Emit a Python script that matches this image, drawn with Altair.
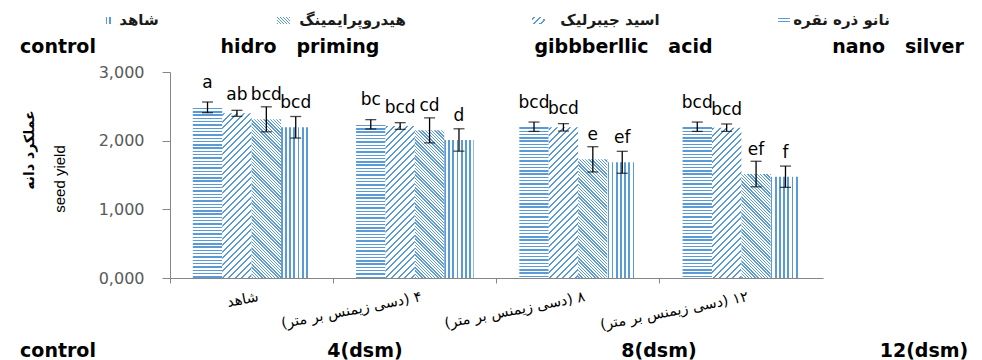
import altair as alt
import pandas as pd

# ---------------- data ----------------
groups = ["شاهد", "۴ (دسی زیمنس بر متر)", "۸ (دسی زیمنس بر متر)", "۱۲ (دسی زیمنس بر متر)"]
series = ["nano silver", "gibberellic acid", "hydro priming", "control"]

nano_silver = [2485, 2238, 2203, 2203]
gibberellic = [2398, 2213, 2194, 2189]
hydro_priming = [2311, 2150, 1728, 1514]
control = [2195, 2010, 1685, 1475]

nano_silver_err = [78, 68, 68, 68]
gibberellic_err = [44, 49, 54, 54]
hydro_priming_err = [182, 182, 184, 186]
control_err = [157, 163, 160, 155]

nano_silver_letters = ["a", "bc", "bcd", "bcd"]
gibberellic_letters = ["ab", "bcd", "bcd", "bcd"]
hydro_priming_letters = ["bcd", "cd", "e", "ef"]
control_letters = ["bcd", "d", "ef", "f"]

legend_fa = ["شاهد", "هیدروپرایمینگ", "اسید جیبرلیک", "نانو ذره نقره"]
legend_en = ["control", "hidro\u00a0\u00a0\u00a0priming", "gibbberllic\u00a0\u00a0\u00a0acid", "nano\u00a0\u00a0\u00a0silver"]
bottom_en = ["control", "4(dsm)", "8(dsm)", "12(dsm)"]
y_ticks = [0, 1000, 2000, 3000]
y_title_fa = "عملکرد دانه"
y_title_en = "seed yield"

rows = []
for s, vals, errs, lets in zip(
    series,
    [nano_silver, gibberellic, hydro_priming, control],
    [nano_silver_err, gibberellic_err, hydro_priming_err, control_err],
    [nano_silver_letters, gibberellic_letters, hydro_priming_letters, control_letters],
):
    for g, v, e, l in zip(groups, vals, errs, lets):
        rows.append({"group": g, "series": s, "val": v, "err": e, "letter": l})
df = pd.DataFrame(rows)

label_df = pd.DataFrame({"group": groups, "label": ["\u202b" + g + "\u202c" for g in groups]})

# ---------------- layout ----------------
W, H = 653, 206
YMAX = 3000
K = H / YMAX
PO = 0.776
step = W / 4
bw = step / (4 + 2 * PO)

BLUE = "#5B9BD5"
WHITE = "#FFFFFF"


def stop_list(period, line, phase, length):
    out = []
    a = phase
    while a - period > -line:
        a -= period
    while a < length:
        lo = max(a, 0.0)
        hi = min(a + line, length)
        if hi > lo:
            out += [(lo, WHITE), (lo, BLUE), (hi, BLUE), (hi, WHITE)]
        a += period
    return [(round(o / length, 5), c) for o, c in out]


def js_stops(lst):
    return "[" + ",".join("{offset:%s,color:'%s'}" % (o, c) for o, c in lst) + "]"


def vl_stops(lst):
    return [{"offset": o, "color": c} for o, c in lst]


D_H = 175.0
D_D = 205.0
S_h = js_stops(stop_list(3.3, 1.4, 0.5, D_H))
S_up = js_stops(stop_list(6.5, 2.3, 1.0, D_D))
S_dn = js_stops(stop_list(3.2, 1.4, 0.5, D_D))
S_v = js_stops(stop_list(4.2, 1.8, 4.0, bw))

h = "(datum.val*%r)" % K
w2 = repr(bw * bw)
den = "(" + w2 + "+" + h + "*" + h + ")"
G_h = "{gradient:'linear',x1:0,y1:0,x2:0,y2:" + repr(D_H) + "/" + h + ",stops:" + S_h + "}"
G_up = ("{gradient:'linear',x1:0,y1:0,x2:" + repr(D_D * bw) + "/" + den +
        ",y2:" + repr(D_D) + "*" + h + "/" + den + ",stops:" + S_up + "}")
G_dn = ("{gradient:'linear',x1:0,y1:1,x2:" + repr(D_D * bw) + "/" + den +
        ",y2:1-" + repr(D_D) + "*" + h + "/" + den + ",stops:" + S_dn + "}")
G_v = "{gradient:'linear',x1:0,y1:0,x2:1,y2:0,stops:" + S_v + "}"
grad_expr = ("datum.series=='nano silver' ? " + G_h +
             " : datum.series=='gibberellic acid' ? " + G_up +
             " : datum.series=='hydro priming' ? " + G_dn + " : " + G_v)

AXIS_GREY = "#868686"
x_axis = alt.Axis(title=None, labels=False, bandPosition=0, grid=False,
                  domainColor=AXIS_GREY, tickColor=AXIS_GREY, tickSize=5)
y_axis = alt.Axis(title=None, values=y_ticks, grid=False,
                  labelExpr="datum.value == 0 ? '0,000' : format(datum.value, ',')",
                  domainColor=AXIS_GREY, tickColor=AXIS_GREY, tickSize=8,
                  labelPadding=18, labelFont="DejaVu Sans", labelFontSize=16,
                  labelColor="#595959")

x_enc = alt.X("group:N", sort=groups, axis=x_axis,
              scale=alt.Scale(domain=groups, paddingInner=0, paddingOuter=0))
xo_enc = alt.XOffset("series:N", sort=series,
                     scale=alt.Scale(domain=series, paddingInner=0, paddingOuter=PO))
y_scale = alt.Scale(domain=[0, YMAX])

base = alt.Chart(df)

bars = base.transform_calculate(grad=grad_expr).mark_bar().encode(
    x=x_enc, xOffset=xo_enc,
    y=alt.Y("val:Q", scale=y_scale, axis=y_axis, stack=None),
    fill=alt.Fill("grad:N", scale=None, legend=None),
)

err_base = base.transform_calculate(lo="datum.val - datum.err", hi="datum.val + datum.err")
err_rule = err_base.mark_rule(color="black", strokeWidth=1.3).encode(
    x=x_enc, xOffset=xo_enc,
    y=alt.Y("lo:Q", scale=y_scale, axis=y_axis), y2="hi:Q",
)
cap_lo = err_base.mark_tick(color="black", thickness=1.3, size=11).encode(
    x=x_enc, xOffset=xo_enc, y=alt.Y("lo:Q", scale=y_scale, axis=y_axis))
cap_hi = err_base.mark_tick(color="black", thickness=1.3, size=11).encode(
    x=x_enc, xOffset=xo_enc, y=alt.Y("hi:Q", scale=y_scale, axis=y_axis))

letter_style = dict(font="DejaVu Sans", fontSize=17, baseline="alphabetic", color="black")
letters_main = base.transform_filter("datum.series != 'gibberellic acid'").mark_text(
    dy=-19, **letter_style).encode(
    x=x_enc, xOffset=xo_enc,
    y=alt.Y("val:Q", scale=y_scale, axis=y_axis), text="letter:N")
letters_gib = base.transform_filter("datum.series == 'gibberellic acid'").mark_text(
    dy=-13, **letter_style).encode(
    x=x_enc, xOffset=xo_enc,
    y=alt.Y("val:Q", scale=y_scale, axis=y_axis), text="letter:N")

xlabels = alt.Chart(label_df).mark_text(
    font="DejaVu Sans", fontSize=14.5, angle=349, align="right", baseline="top",
    dx=3, dy=13, color="black").encode(
    x=x_enc, y=alt.value(H), text="label:N")

one = alt.Data(values=[{}])


def annot(text, x, y, **kw):
    return alt.Chart(one).mark_text(text=text, **kw).encode(x=alt.value(x), y=alt.value(y))


def swatch(x0, x1, y0, y1, grad):
    return alt.Chart(one).mark_rect(fill=grad).encode(
        x=alt.value(x0), x2=alt.value(x1), y=alt.value(y0), y2=alt.value(y1))


def grad_vert(w, period, line, phase):
    return {"gradient": "linear", "x1": 0, "y1": 0, "x2": 1, "y2": 0,
            "stops": vl_stops(stop_list(period, line, phase, w))}


def grad_horz(hh, period, line, phase):
    return {"gradient": "linear", "x1": 0, "y1": 0, "x2": 0, "y2": 1,
            "stops": vl_stops(stop_list(period, line, phase, hh))}


def grad_up(w, hh, period, line, phase):
    a = (w + hh) / (w * w + hh * hh)
    return {"gradient": "linear", "x1": 0, "y1": 0, "x2": a * w, "y2": a * hh,
            "stops": vl_stops(stop_list(period, line, phase, w + hh))}


def grad_dn(w, hh, period, line, phase):
    a = (w + hh) / (w * w + hh * hh)
    return {"gradient": "linear", "x1": 0, "y1": 1, "x2": a * w, "y2": 1 - a * hh,
            "stops": vl_stops(stop_list(period, line, phase, w + hh))}


LEG_Y = -52
fa_leg = dict(font="DejaVu Sans", fontSize=15, fontWeight="bold", align="center",
              baseline="middle", color="#1a1a1a")
en_big = dict(font="DejaVu Sans", fontSize=19, fontWeight="bold", align="center",
              baseline="middle", color="black")

annots = [
    swatch(-65, -58, -55, -48, grad_vert(7, 3.2, 1.4, 1.0)),
    swatch(107, 120, -55, -48, grad_dn(13, 7, 3.0, 1.3, 0.5)),
    swatch(362, 375, -55, -48, grad_up(13, 7, 6.5, 2.3, 1.0)),
    swatch(608, 620, -55, -48, grad_horz(7, 3.3, 1.4, 0.5)),
    annot(legend_fa[0], -31, LEG_Y, **fa_leg),
    annot(legend_fa[1], 182.5, LEG_Y, **fa_leg),
    annot(legend_fa[2], 440, LEG_Y, **fa_leg),
    annot(legend_fa[3], 671.5, LEG_Y, **fa_leg),
    annot(legend_en[0], -112, -25.5, **en_big),
    annot(legend_en[1], 130, -25.5, **en_big),
    annot(legend_en[2], 453.5, -25.5, **en_big),
    annot(legend_en[3], 728, -25.5, **en_big),
    annot(bottom_en[0], -112, 279, **en_big),
    annot(bottom_en[1], 195, 279, **en_big),
    annot(bottom_en[2], 489, 279, **en_big),
    annot(bottom_en[3], 754, 279, **en_big),
    annot(y_title_fa, -140, 78, font="DejaVu Sans", fontSize=14, fontWeight="bold",
          angle=270, align="center", baseline="middle", color="black"),
    annot(y_title_en, -110, 107, font="Liberation Sans", fontSize=15,
          angle=270, align="center", baseline="middle", color="black"),
]

chart = alt.layer(bars, err_rule, cap_lo, cap_hi, letters_main, letters_gib, xlabels,
                  *annots).properties(
    width=W, height=H,
    autosize=alt.AutoSizeParams(type="none"),
    padding={"left": 162, "top": 64, "right": 151, "bottom": 82},
).configure_view(stroke=None)

chart.save("out.html", embed_options={"renderer": "svg", "actions": False})
